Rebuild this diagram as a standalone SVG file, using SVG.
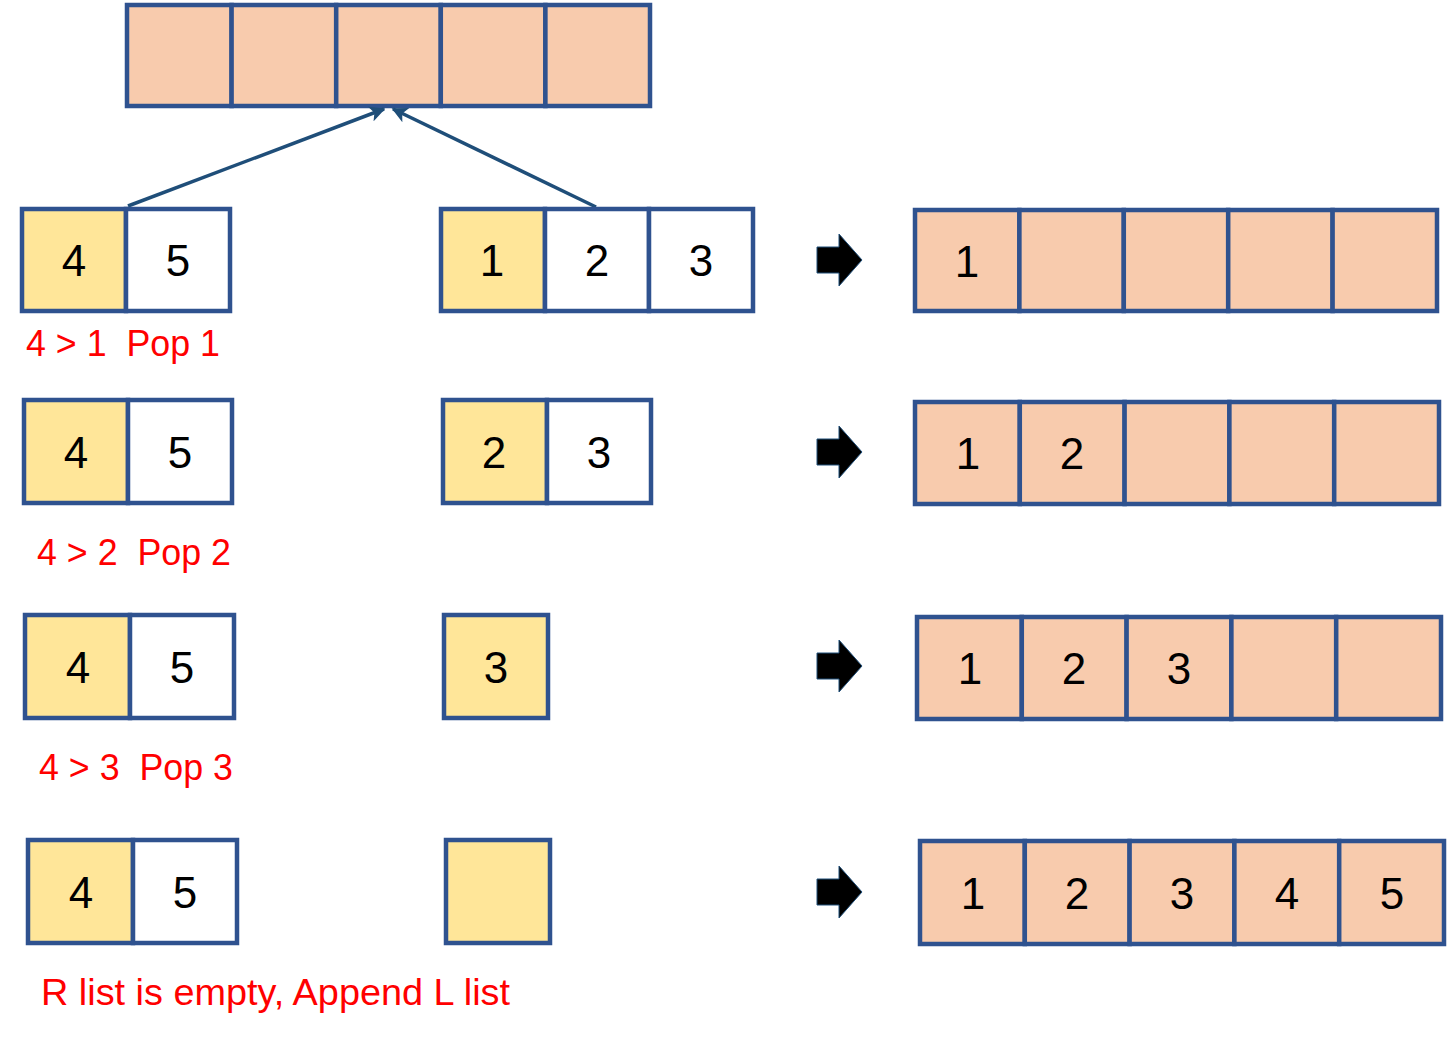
<svg xmlns="http://www.w3.org/2000/svg" width="1447" height="1042" viewBox="0 0 1447 1042">
<style>
.p{fill:#F8CBAD;stroke:#2F528F;stroke-width:4.5}
.y{fill:#FFE699;stroke:#2F528F;stroke-width:4.5}
.w{fill:#FFFFFF;stroke:#2F528F;stroke-width:4.5}
.d{font-family:"Liberation Sans",Arial,sans-serif;font-size:44px;fill:#000;text-anchor:middle}
.r{font-family:"Liberation Sans",Arial,sans-serif;font-size:37px;fill:#FF0000;white-space:pre}
.ba{fill:#000;stroke:#1F4E79;stroke-width:1}
.c{stroke:#1F4E79;stroke-width:3.5;fill:none}
</style>
<defs>
<marker id="ah" viewBox="0 0 10 10" refX="9" refY="5" markerWidth="4.5" markerHeight="4.5" orient="auto" markerUnits="strokeWidth">
<path d="M0,0 L10,5 L0,10 L2.5,5 z" fill="#1F4E79"/>
</marker>
<path id="barrow" d="M0,-13 L22,-13 L22,-26 L45,0 L22,26 L22,13 L0,13 z"/>
</defs>

<g id="merged-top">
<rect class="p" x="127" y="5" width="104.6" height="101"/>
<rect class="p" x="231.6" y="5" width="104.6" height="101"/>
<rect class="p" x="336.2" y="5" width="104.6" height="101"/>
<rect class="p" x="440.8" y="5" width="104.6" height="101"/>
<rect class="p" x="545.4" y="5" width="104.6" height="101"/>
</g>

<g id="connectors">
<line class="c" x1="128" y1="206" x2="384" y2="109" marker-end="url(#ah)"/>
<line class="c" x1="596" y1="207" x2="393" y2="109" marker-end="url(#ah)"/>
</g>

<!-- Row 1 -->
<g id="row1-left">
<rect class="y" x="22" y="209" width="104" height="102"/>
<rect class="w" x="126" y="209" width="104" height="102"/>
<text class="d" x="74" y="276">4</text>
<text class="d" x="178" y="276">5</text>
</g>
<g id="row1-right">
<rect class="y" x="441" y="209" width="104" height="102"/>
<rect class="w" x="545" y="209" width="104" height="102"/>
<rect class="w" x="649" y="209" width="104" height="102"/>
<text class="d" x="492" y="276">1</text>
<text class="d" x="597" y="276">2</text>
<text class="d" x="701" y="276">3</text>
</g>
<g id="row1-arrow"><use href="#barrow" class="ba" x="817" y="260"/></g>
<g id="row1-result">
<rect class="p" x="915" y="210" width="104.4" height="101"/>
<rect class="p" x="1019.4" y="210" width="104.4" height="101"/>
<rect class="p" x="1123.8" y="210" width="104.4" height="101"/>
<rect class="p" x="1228.2" y="210" width="104.4" height="101"/>
<rect class="p" x="1332.6" y="210" width="104.4" height="101"/>
<text class="d" x="967" y="277">1</text>
</g>
<g id="row1-label"><text class="r" x="26" y="356" xml:space="preserve" textLength="194" lengthAdjust="spacingAndGlyphs">4 &gt; 1  Pop 1</text></g>

<!-- Row 2 -->
<g id="row2-left">
<rect class="y" x="24" y="400" width="104" height="103"/>
<rect class="w" x="128" y="400" width="104" height="103"/>
<text class="d" x="76" y="468">4</text>
<text class="d" x="180" y="468">5</text>
</g>
<g id="row2-right">
<rect class="y" x="443" y="400" width="104" height="103"/>
<rect class="w" x="547" y="400" width="104" height="103"/>
<text class="d" x="494" y="468">2</text>
<text class="d" x="599" y="468">3</text>
</g>
<g id="row2-arrow"><use href="#barrow" class="ba" x="817" y="452"/></g>
<g id="row2-result">
<rect class="p" x="915" y="402" width="104.8" height="102"/>
<rect class="p" x="1019.8" y="402" width="104.8" height="102"/>
<rect class="p" x="1124.6" y="402" width="104.8" height="102"/>
<rect class="p" x="1229.4" y="402" width="104.8" height="102"/>
<rect class="p" x="1334.2" y="402" width="104.8" height="102"/>
<text class="d" x="968" y="469">1</text>
<text class="d" x="1072" y="469">2</text>
</g>
<g id="row2-label"><text class="r" x="37" y="565" xml:space="preserve" textLength="194" lengthAdjust="spacingAndGlyphs">4 &gt; 2  Pop 2</text></g>

<!-- Row 3 -->
<g id="row3-left">
<rect class="y" x="25" y="615" width="105" height="103"/>
<rect class="w" x="130" y="615" width="104" height="103"/>
<text class="d" x="78" y="683">4</text>
<text class="d" x="182" y="683">5</text>
</g>
<g id="row3-right">
<rect class="y" x="444" y="615" width="104" height="103"/>
<text class="d" x="496" y="683">3</text>
</g>
<g id="row3-arrow"><use href="#barrow" class="ba" x="817" y="666"/></g>
<g id="row3-result">
<rect class="p" x="917" y="617" width="104.8" height="102"/>
<rect class="p" x="1021.8" y="617" width="104.8" height="102"/>
<rect class="p" x="1126.6" y="617" width="104.8" height="102"/>
<rect class="p" x="1231.4" y="617" width="104.8" height="102"/>
<rect class="p" x="1336.2" y="617" width="104.8" height="102"/>
<text class="d" x="970" y="684">1</text>
<text class="d" x="1074" y="684">2</text>
<text class="d" x="1179" y="684">3</text>
</g>
<g id="row3-label"><text class="r" x="39" y="780" xml:space="preserve" textLength="194" lengthAdjust="spacingAndGlyphs">4 &gt; 3  Pop 3</text></g>

<!-- Row 4 -->
<g id="row4-left">
<rect class="y" x="28" y="840" width="105" height="103"/>
<rect class="w" x="133" y="840" width="104" height="103"/>
<text class="d" x="81" y="908">4</text>
<text class="d" x="185" y="908">5</text>
</g>
<g id="row4-right">
<rect class="y" x="446" y="840" width="104" height="103"/>
</g>
<g id="row4-arrow"><use href="#barrow" class="ba" x="817" y="892"/></g>
<g id="row4-result">
<rect class="p" x="920" y="841" width="104.8" height="103"/>
<rect class="p" x="1024.8" y="841" width="104.8" height="103"/>
<rect class="p" x="1129.6" y="841" width="104.8" height="103"/>
<rect class="p" x="1234.4" y="841" width="104.8" height="103"/>
<rect class="p" x="1339.2" y="841" width="104.8" height="103"/>
<text class="d" x="973" y="909">1</text>
<text class="d" x="1077" y="909">2</text>
<text class="d" x="1182" y="909">3</text>
<text class="d" x="1287" y="909">4</text>
<text class="d" x="1392" y="909">5</text>
</g>
<g id="row4-label"><text class="r" x="41" y="1005" textLength="469" lengthAdjust="spacingAndGlyphs">R list is empty, Append L list</text></g>
</svg>
